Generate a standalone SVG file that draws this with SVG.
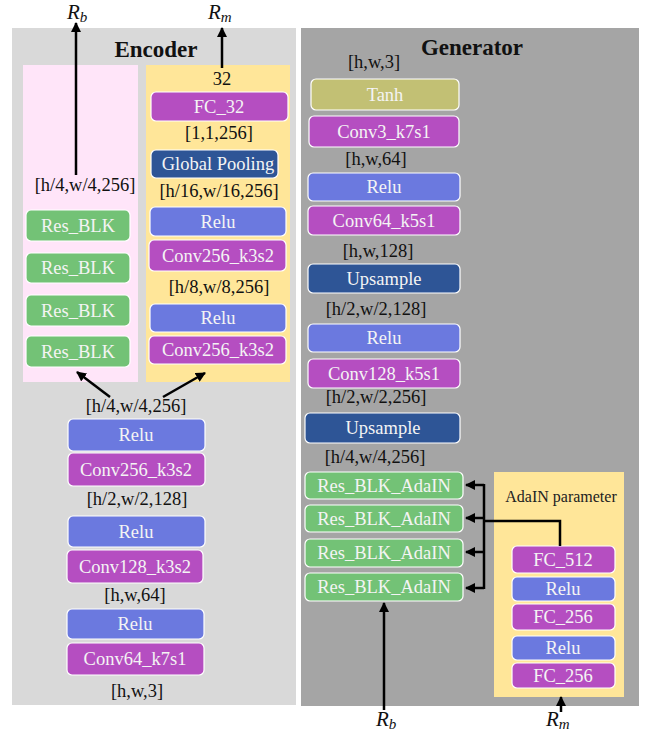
<svg xmlns="http://www.w3.org/2000/svg" width="645" height="738" viewBox="0 0 645 738">
<style>
.bx{stroke:#fff;stroke-width:1.2}
.g{fill:#73c276}.p{fill:#b54ec1}.b{fill:#6b79df}.d{fill:#2e5596}.y{fill:#c2c074}
.t{font-family:"Liberation Serif",serif;font-size:18.5px;fill:#f4f4f4;text-anchor:middle}
.l{font-family:"Liberation Serif",serif;font-size:18.5px;fill:#111;text-anchor:middle}
.h{font-family:"Liberation Serif",serif;font-size:23px;font-weight:bold;fill:#111;text-anchor:middle}
.r{font-family:"Liberation Serif",serif;font-style:italic;font-size:21px;fill:#111}
.c{stroke:#000;stroke-width:2.5;fill:none}
</style>
<defs>
<marker id="ah" markerUnits="userSpaceOnUse" markerWidth="10" markerHeight="10" viewBox="0 0 10 10" refX="9" refY="5" orient="auto">
<path d="M0,0 L10,5 L0,10 z" fill="#000"/>
</marker>
</defs>
<rect width="645" height="738" fill="#fff"/>
<g id="encoder-panel">
<rect x="12" y="28" width="284" height="677" fill="#d9d9d9"/>
<rect x="23" y="65" width="115" height="317" fill="#ffe5f9"/>
<rect x="146" y="65" width="144" height="317" fill="#ffe699"/>
<text class="h" x="156" y="57">Encoder</text>
</g>
<g id="generator-panel">
<rect x="301" y="28" width="338" height="678" fill="#a5a5a5"/>
<text class="h" x="472" y="55">Generator</text>
<rect x="494" y="472" width="130" height="225" fill="#ffe699"/>
<text x="561" y="502" style="font-family:'Liberation Serif',serif;font-size:16px;fill:#222;text-anchor:middle">AdaIN parameter</text>
</g>
<g id="labels">
<text class="l" x="222" y="85">32</text>
<text class="l" x="219" y="139">[1,1,256]</text>
<text class="l" x="219" y="197">[h/16,w/16,256]</text>
<text class="l" x="85" y="191">[h/4,w/4,256]</text>
<text class="l" x="219" y="293">[h/8,w/8,256]</text>
<text class="l" x="136" y="412">[h/4,w/4,256]</text>
<text class="l" x="137" y="505">[h/2,w/2,128]</text>
<text class="l" x="135" y="601">[h,w,64]</text>
<text class="l" x="137" y="697">[h,w,3]</text>
<text class="l" x="374" y="68">[h,w,3]</text>
<text class="l" x="376" y="165">[h,w,64]</text>
<text class="l" x="378" y="257">[h,w,128]</text>
<text class="l" x="376" y="315">[h/2,w/2,128]</text>
<text class="l" x="376" y="403">[h/2,w/2,256]</text>
<text class="l" x="375" y="463">[h/4,w/4,256]</text>
</g>
<g id="fc32"><rect class="bx p" x="151" y="92" width="137" height="29" rx="5"/><text class="t" x="219" y="113">FC_32</text></g>
<g id="gpool"><rect class="bx d" x="151" y="150" width="127" height="28" rx="5"/><text class="t" x="218" y="170">Global Pooling</text></g>
<g id="e-relu3"><rect class="bx b" x="150" y="207" width="136" height="29" rx="5"/><text class="t" x="218" y="228">Relu</text></g>
<g id="e-conv3"><rect class="bx p" x="149" y="240" width="137" height="31" rx="5"/><text class="t" x="218" y="262">Conv256_k3s2</text></g>
<g id="e-relu4"><rect class="bx b" x="150" y="304" width="136" height="28" rx="5"/><text class="t" x="218" y="324">Relu</text></g>
<g id="e-conv4"><rect class="bx p" x="149" y="336" width="137" height="28" rx="5"/><text class="t" x="218" y="356">Conv256_k3s2</text></g>
<g id="res1"><rect class="bx g" x="26" y="210" width="104" height="31" rx="5"/><text class="t" x="78" y="232">Res_BLK</text></g>
<g id="res2"><rect class="bx g" x="26" y="253" width="104" height="30" rx="5"/><text class="t" x="78" y="274">Res_BLK</text></g>
<g id="res3"><rect class="bx g" x="26" y="295" width="104" height="31" rx="5"/><text class="t" x="78" y="317">Res_BLK</text></g>
<g id="res4"><rect class="bx g" x="26" y="336" width="104" height="31" rx="5"/><text class="t" x="78" y="358">Res_BLK</text></g>
<g id="e-relu2"><rect class="bx b" x="68" y="419" width="137" height="32" rx="5"/><text class="t" x="136" y="441">Relu</text></g>
<g id="e-conv2"><rect class="bx p" x="68" y="453" width="137" height="33" rx="5"/><text class="t" x="136" y="476">Conv256_k3s2</text></g>
<g id="e-relu1"><rect class="bx b" x="68" y="516" width="137" height="31" rx="5"/><text class="t" x="136" y="538">Relu</text></g>
<g id="e-conv1"><rect class="bx p" x="67" y="550" width="136" height="33" rx="5"/><text class="t" x="135" y="573">Conv128_k3s2</text></g>
<g id="e-relu0"><rect class="bx b" x="67" y="609" width="137" height="30" rx="5"/><text class="t" x="135" y="630">Relu</text></g>
<g id="e-conv0"><rect class="bx p" x="67" y="643" width="137" height="32" rx="5"/><text class="t" x="135" y="665">Conv64_k7s1</text></g>
<g id="tanh"><rect class="bx y" x="311" y="79" width="148" height="31" rx="5"/><text class="t" x="385" y="101">Tanh</text></g>
<g id="g-conv3"><rect class="bx p" x="309" y="116" width="150" height="31" rx="5"/><text class="t" x="384" y="138">Conv3_k7s1</text></g>
<g id="g-relu2"><rect class="bx b" x="308" y="173" width="152" height="28" rx="5"/><text class="t" x="384" y="193">Relu</text></g>
<g id="g-conv2"><rect class="bx p" x="308" y="206" width="152" height="29" rx="5"/><text class="t" x="384" y="227">Conv64_k5s1</text></g>
<g id="up2"><rect class="bx d" x="308" y="264" width="152" height="29" rx="5"/><text class="t" x="384" y="285">Upsample</text></g>
<g id="g-relu1"><rect class="bx b" x="308" y="324" width="152" height="28" rx="5"/><text class="t" x="384" y="344">Relu</text></g>
<g id="g-conv1"><rect class="bx p" x="308" y="359" width="152" height="29" rx="5"/><text class="t" x="384" y="380">Conv128_k5s1</text></g>
<g id="up1"><rect class="bx d" x="305" y="413" width="155" height="30" rx="5"/><text class="t" x="383" y="434">Upsample</text></g>
<g id="ada1"><rect class="bx g" x="305" y="472" width="158" height="27" rx="5"/><text class="t" x="384" y="492">Res_BLK_AdaIN</text></g>
<g id="ada2"><rect class="bx g" x="305" y="505" width="158" height="27" rx="5"/><text class="t" x="384" y="525">Res_BLK_AdaIN</text></g>
<g id="ada3"><rect class="bx g" x="305" y="539" width="158" height="28" rx="5"/><text class="t" x="384" y="559">Res_BLK_AdaIN</text></g>
<g id="ada4"><rect class="bx g" x="305" y="573" width="158" height="28" rx="5"/><text class="t" x="384" y="593">Res_BLK_AdaIN</text></g>
<g id="fc512"><rect class="bx p" x="512" y="546" width="103" height="27" rx="5"/><text class="t" x="563" y="566">FC_512</text></g>
<g id="a-relu1"><rect class="bx b" x="512" y="577" width="103" height="24" rx="5"/><text class="t" x="563" y="595">Relu</text></g>
<g id="fc256a"><rect class="bx p" x="512" y="604" width="103" height="26" rx="5"/><text class="t" x="563" y="623">FC_256</text></g>
<g id="a-relu2"><rect class="bx b" x="512" y="636" width="103" height="24" rx="5"/><text class="t" x="563" y="654">Relu</text></g>
<g id="fc256b"><rect class="bx p" x="512" y="663" width="103" height="25" rx="5"/><text class="t" x="563" y="682">FC_256</text></g>
<g id="rb-top"><text class="r" x="67" y="19">R<tspan font-size="15" dy="3">b</tspan></text></g>
<g id="rm-top"><text class="r" x="208" y="19">R<tspan font-size="15" dy="3">m</tspan></text></g>
<g id="rb-bottom"><text class="r" x="376" y="726">R<tspan font-size="15" dy="3">b</tspan></text></g>
<g id="rm-bottom"><text class="r" x="546" y="726">R<tspan font-size="15" dy="3">m</tspan></text></g>
<g id="connectors">
<line class="c" x1="76" y1="175" x2="76" y2="23" marker-end="url(#ah)"/>
<line class="c" x1="222" y1="68" x2="222" y2="28" marker-end="url(#ah)"/>
<line class="c" x1="110" y1="397" x2="77" y2="372" marker-end="url(#ah)"/>
<line class="c" x1="163" y1="397" x2="205" y2="373" marker-end="url(#ah)"/>
<line class="c" x1="484" y1="484" x2="484" y2="589"/>
<line class="c" x1="484" y1="485" x2="466" y2="485" marker-end="url(#ah)"/>
<line class="c" x1="484" y1="518" x2="466" y2="518" marker-end="url(#ah)"/>
<line class="c" x1="484" y1="552" x2="466" y2="552" marker-end="url(#ah)"/>
<line class="c" x1="484" y1="588" x2="466" y2="588" marker-end="url(#ah)"/>
<path class="c" d="M484,521 H560 V546"/>
<line class="c" x1="384" y1="710" x2="384" y2="603" marker-end="url(#ah)"/>
<line class="c" x1="561" y1="712" x2="561" y2="697" marker-end="url(#ah)"/>
</g>
</svg>
